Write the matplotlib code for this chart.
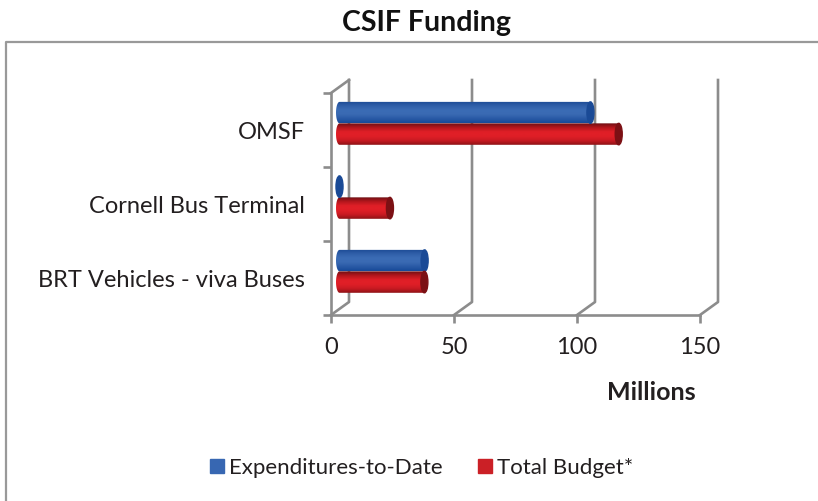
import numpy as np
import matplotlib
matplotlib.use("Agg")
import matplotlib.pyplot as plt
from matplotlib.colors import LinearSegmentedColormap
from matplotlib.patches import Ellipse, Patch, Polygon
from matplotlib.lines import Line2D

categories = ["BRT Vehicles - viva Buses", "Cornell Bus Terminal", "OMSF"]
expenditures = [34.6, 0, 102]
total_budget = [34.5, 20.5, 113.5]
xticks = [0, 50, 100, 150]

plt.rcParams['font.family'] = ['Lato', 'DejaVu Sans']
text_col = '#231f20'
grid_col = '#8c8c8c'

fig = plt.figure(figsize=(8.18, 5.01), dpi=100)
ax = fig.add_axes([331/818, (501-315)/501, 369/818, 222/501])
ax.patch.set_alpha(0)

# depth of the fake 3d box, in data units
dx = 18/2.46
dy = 13/74
lw = 1.9

blue = LinearSegmentedColormap.from_list('b', ['#1b4a94', '#2f5ea8', '#3b6cb5', '#3a6ab3', '#2a5aa6', '#174a98'])
red = LinearSegmentedColormap.from_list('r', ['#6e1014', '#b5161d', '#e01f27', '#e01f27', '#c81a22', '#8e1216'])
grad = np.linspace(0, 1, 64).reshape(-1, 1)

# back wall and floor
for x in xticks:
    ax.plot([x, x+dx, x+dx], [-0.5, -0.5+dy, 2.5+dy], color=grid_col, lw=lw, clip_on=False, zorder=1)
ax.plot([0, dx], [2.5, 2.5+dy], color=grid_col, lw=lw, clip_on=False, zorder=1)

h = 0.29
shift = 0.09   # bars sit in the middle of the depth
x0 = dx/2 - 0.2
cap_w = 2.85


def cyl(val, yc, cmap, cap):
    x1 = x0 + val
    im = ax.imshow(grad, extent=[x0-cap_w/2, x1, yc-h/2, yc+h/2], cmap=cmap, aspect='auto', zorder=3)
    # round the left end of the tube
    t = np.linspace(np.pi/2, 3*np.pi/2, 30)
    pts = np.column_stack((x0 + cap_w/2*np.cos(t), yc + h/2*np.sin(t)))
    pts = np.vstack((pts, [[x1, yc-h/2], [x1, yc+h/2]]))
    im.set_clip_path(Polygon(pts, closed=True, transform=ax.transData))
    ax.add_patch(Ellipse((x1, yc), cap_w, h, color=cap, zorder=4, clip_on=False))


for i in range(len(categories)):
    cyl(expenditures[i], i+shift+h/2, blue, '#1a4a96')
    cyl(total_budget[i], i+shift-h/2, red, '#7c1014')

ax.set_xlim(0, 150)
ax.set_ylim(-0.5, 2.5)
ax.set_yticks([-0.5, 0.5, 1.5, 2.5])
ax.set_yticklabels([])
ax.set_xticks(xticks)
ax.tick_params(axis='both', color=grid_col, width=lw, length=6, labelcolor=text_col)
ax.tick_params(axis='x', labelsize=17, pad=10)
for s in ['top', 'right']:
    ax.spines[s].set_visible(False)
for s in ['left', 'bottom']:
    ax.spines[s].set_color(grid_col)
    ax.spines[s].set_linewidth(lw)

for i, c in enumerate(categories):
    ax.text(-0.07, i-0.03, c, transform=ax.get_yaxis_transform(), ha='right', va='center', fontsize=17, color=text_col)

fig.text(651/818, 1-393/501, "Millions", ha='center', va='center', fontsize=18, fontweight='bold', color=text_col)
fig.text(426/818, 1-23/501, "CSIF Funding", ha='center', va='center', fontsize=20.5, fontweight='bold', color='#111111')

# chart frame
fig.add_artist(Line2D([6/818, 6/818, 1], [0, 1-42/501, 1-42/501], color='#999999', lw=1.6))

handles = [Patch(color='#3767b2', label='Expenditures-to-Date'), Patch(color='#cb2026', label='Total Budget*')]
leg = fig.legend(handles=handles, loc='center', bbox_to_anchor=(421.5/818, 1-468/501), ncol=2, frameon=False,
                 fontsize=16, handlelength=0.63, handleheight=0.63, handletextpad=0.22, columnspacing=1.585,
                 labelcolor=text_col)

fig.savefig('out.png', dpi=100)
